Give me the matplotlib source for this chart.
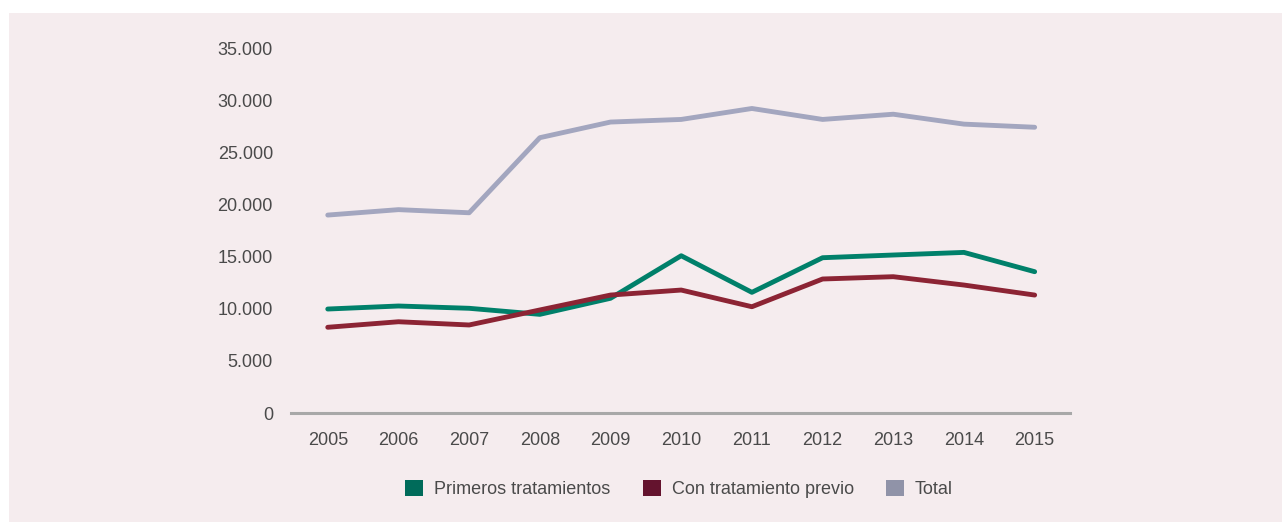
import matplotlib.pyplot as plt
import matplotlib.patches as mpatches

years = [2005, 2006, 2007, 2008, 2009, 2010, 2011, 2012, 2013, 2014, 2015]
primeros = [9970, 10260, 10040, 9460, 11000, 15080, 11570, 14890, 15150, 15400, 13550]
previo = [8220, 8750, 8440, 9880, 11310, 11790, 10190, 12850, 13070, 12270, 11310]
total = [18980, 19500, 19200, 26400, 27900, 28150, 29200, 28150, 28650, 27700, 27400]
yticks = [0, 5000, 10000, 15000, 20000, 25000, 30000, 35000]
ytick_labels = ['0', '5.000', '10.000', '15.000', '20.000', '25.000', '30.000', '35.000']
legend_names = ['Primeros tratamientos', 'Con tratamiento previo', 'Total']

bg = '#f5ecee'
txt = '#4a4a4a'

plt.rcParams['font.family'] = ['Liberation Sans', 'DejaVu Sans']

fig = plt.figure(figsize=(12.82, 5.22), dpi=100)
fig.patch.set_facecolor('white')
# pink panel behind everything
fig.patches.append(mpatches.Rectangle((9 / 1282, 0), 1 - 9 / 1282, 1 - 13 / 522,
                                      transform=fig.transFigure, facecolor=bg,
                                      edgecolor='none', zorder=-5))

ax = fig.add_axes([291 / 1282, 109 / 522, 779 / 1282, 365 / 522])
ax.set_facecolor('none')

ax.plot(years, total, color='#a3a6bf', lw=3.5, solid_capstyle='round', clip_on=False)
ax.plot(years, primeros, color='#00806a', lw=3.5, solid_capstyle='round', clip_on=False)
ax.plot(years, previo, color='#8c2434', lw=3.5, solid_capstyle='round', clip_on=False)

ax.set_xlim(2004.48, 2015.5)
ax.set_ylim(0, 35000)
ax.set_xticks(years)
ax.set_xticklabels([str(y) for y in years])
ax.set_yticks(yticks)
ax.set_yticklabels(ytick_labels)
ax.tick_params(axis='both', length=0, labelsize=13, colors=txt)
ax.tick_params(axis='y', pad=13)
ax.tick_params(axis='x', pad=14)

for s in ['top', 'right', 'left']:
    ax.spines[s].set_visible(False)
ax.spines['bottom'].set_color('#a8a8a8')
ax.spines['bottom'].set_linewidth(2.2)

handles = [mpatches.Patch(facecolor=c, edgecolor='none', label=n)
           for c, n in zip(['#006b5a', '#64132e', '#9093a8'], legend_names)]
leg = fig.legend(handles=handles, loc='center', bbox_to_anchor=(679 / 1282, 1 - 489 / 522),
                 ncol=3, frameon=False, fontsize=13, handlelength=1.0, handleheight=1.0,
                 handletextpad=0.6, columnspacing=1.8)
for t in leg.get_texts():
    t.set_color(txt)

fig.savefig('out.png', dpi=100, facecolor=fig.get_facecolor())
